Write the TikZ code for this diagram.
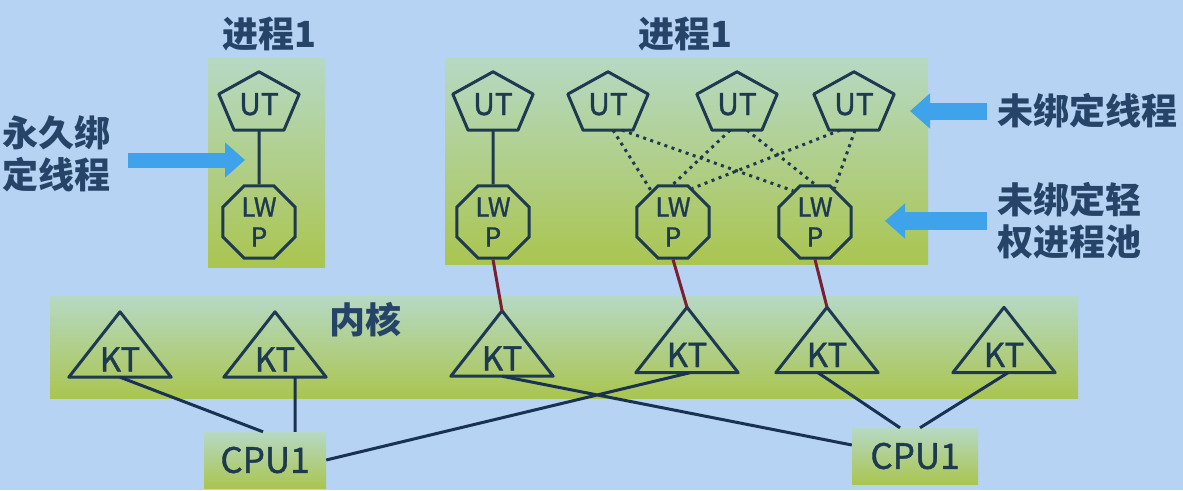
\documentclass[tikz,border=0pt]{standalone}
\usepackage{fontspec}
\setmainfont{Noto Sans CJK SC}
\newfontfamily\labfont{Noto Sans CJK SC}[FakeBold=1.2]
\usetikzlibrary{arrows.meta,calc,shapes.geometric}
\definecolor{bgblue}{RGB}{182,211,243}
\definecolor{gtop}{RGB}{182,217,196}
\definecolor{gbot}{RGB}{170,197,80}
\definecolor{ink}{RGB}{30,58,80}
\definecolor{txt}{RGB}{38,68,104}
\definecolor{wirec}{RGB}{26,50,82}
\definecolor{bindc}{RGB}{122,32,52}
\definecolor{arrblue}{RGB}{62,163,234}

\tikzset{
  gbox/.style={top color=gtop,bottom color=gbot,draw=none,inner sep=0pt},
  ttl/.style={font=\fontsize{36}{36}\selectfont\bfseries,text=txt,inner sep=0pt},
  side/.style={font=\fontsize{36}{42}\selectfont\bfseries,text=txt,align=left,anchor=west,inner sep=0pt},
  ut/.style={minimum width=80pt,minimum height=58pt,inner sep=0pt,text height=28pt,text depth=0pt,font=\labfont\fontsize{30}{30}\selectfont,text=ink},
  lwp/.style={regular polygon,regular polygon sides=8,minimum size=78pt,inner sep=0pt,draw=ink,line width=3pt,align=center,font=\labfont\fontsize{26}{30}\selectfont,text=ink},
  kt/.style={minimum width=102pt,minimum height=65pt,inner sep=0pt,text height=54pt,text depth=0pt,font=\labfont\fontsize{33}{33}\selectfont,text=ink},
  cpu/.style={gbox,minimum width=122pt,minimum height=56pt,font=\labfont\fontsize{35}{35}\selectfont,text=ink},
  outl/.style={draw=ink,line width=3pt,line join=round},
  wire/.style={draw=wirec,line width=3pt},
  pool/.style={draw=ink,line width=3pt,dash pattern=on 3pt off 4.5pt},
  bind/.style={draw=bindc,line width=3pt},
  barrow/.style={draw=arrblue,-{Triangle[length=20pt,width=34pt]}}
}

\begin{document}
\begin{tikzpicture}[x=1pt,y=-1pt]
\useasboundingbox (0,0) rectangle (1183,490);
\fill[bgblue] (0,0) rectangle (1183,490);

% boxes
\node[gbox,minimum width=117pt,minimum height=209pt] (p0) at (266.5,162.5) {};
\node[gbox,minimum width=483pt,minimum height=206pt] (p1) at (686.5,161) {};
\node[gbox,minimum width=1028pt,minimum height=102pt] (kern) at (564,347) {};
\node[cpu] (c0) at (265,460) {CPU1};
\node[cpu,minimum width=126pt] (c1) at (915,456) {CPU1};

% labels
\node[ttl] (t0) at (269,34) {进程1};
\node[ttl] (t1) at (685,34) {进程1};
\node[ttl] (kt) at (365,320) {内核};
\node[side] (s0) at (2,154) {永久绑\\定线程};
\node[side] (s1) at (997,111) {未绑定线程};
\node[side] (s2) at (997,221) {未绑定轻\\权进程池};

% user threads
\node[ut] (u0) at (259,101) {UT};
\node[ut] (u1) at (493,101) {UT};
\node[ut] (u2) at (608,101) {UT};
\node[ut] (u3) at (737,101) {UT};
\node[ut] (u4) at (854,101) {UT};
\foreach \n in {u0,u1,u2,u3,u4}
  \draw[outl] (\n.north) -- ($(\n.north west)!.382!(\n.south west)$)
    -- ($(\n.south west)!.19!(\n.south east)$) -- ($(\n.south west)!.81!(\n.south east)$)
    -- ($(\n.north east)!.382!(\n.south east)$) -- cycle;

% lwp
\node[lwp] (l0) at (259,222) {LW\\P};
\node[lwp] (l1) at (493,222) {LW\\P};
\node[lwp] (l2) at (673,222) {LW\\P};
\node[lwp] (l3) at (815,222) {LW\\P};

% kernel threads
\node[kt] (k0) at (120,344.5) {KT};
\node[kt] (k1) at (275,344.5) {KT};
\node[kt] (k2) at (502,343.5) {KT};
\node[kt] (k3) at (687,340) {KT};
\node[kt] (k4) at (827,340) {KT};
\node[kt] (k5) at (1004,340) {KT};
\foreach \n in {k0,k1,k2,k3,k4,k5}
  \draw[outl] (\n.north) -- (\n.south west) -- (\n.south east) -- cycle;

% connectors
\draw[outl] (u0.south) -- (l0.north) (u1.south) -- (l1.north);
\draw[pool] ([xshift=5pt]u2.south) -- (l2.125) ([xshift=14pt]u2.south) -- (l3.125)
  ([xshift=-7pt]u3.south) -- (l2.90) ([xshift=10pt]u3.south) -- (l3.90)
  ([xshift=-14pt]u4.south) -- (l2.60) ([xshift=1pt]u4.south) -- (l3.60);
\draw[bind] (l1.south) -- (k2.north) (l2.south) -- (k3.north) (l3.south) -- (k4.north);
\draw[wire] (k0.south) -- ([xshift=-2pt]c0.north)
  ([xshift=20pt]k1.south) -- ([xshift=30pt]c0.north)
  (c0.east) -- ([xshift=3pt]k3.south)
  (k2.south) -- ([yshift=11pt]c1.west)
  ([xshift=-9pt]k4.south) -- ([xshift=-15pt]c1.north)
  ([xshift=4pt]k5.south) -- ([xshift=5pt]c1.north);

% arrows
\coordinate (a0) at (128,160);
\coordinate (a1) at (245,160);
\coordinate (a2) at (987,111);
\coordinate (a3) at (910,111);
\coordinate (a4) at (987,221);
\coordinate (a5) at (885,221);
\draw[barrow,line width=15pt] (a0) -- (a1);
\draw[barrow,line width=17pt] (a2) -- (a3);
\draw[barrow,line width=18pt] (a4) -- (a5);
\end{tikzpicture}
\end{document}
